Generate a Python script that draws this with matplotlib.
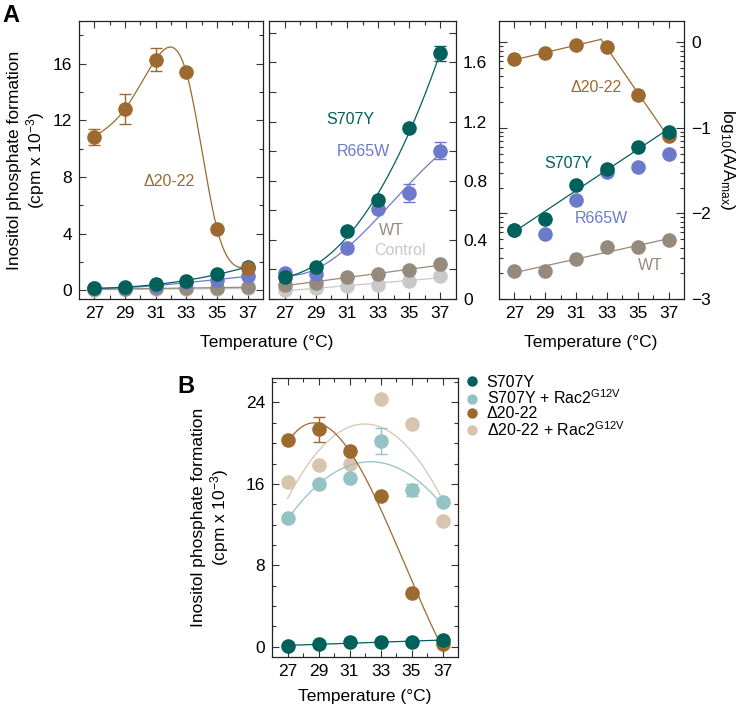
import numpy as np
import matplotlib
matplotlib.use("Agg")
import matplotlib.pyplot as plt
from matplotlib.ticker import MultipleLocator, FixedLocator
from matplotlib.lines import Line2D

plt.rcParams['font.family'] = ['Liberation Sans', 'DejaVu Sans']
plt.rcParams['mathtext.fontset'] = 'custom'
plt.rcParams['mathtext.rm'] = 'Liberation Sans'
plt.rcParams['mathtext.it'] = 'Liberation Sans:italic'

temps = np.array([27, 29, 31, 33, 35, 37])

# panel A, cpm x 10^-3
s707y = [0.15, 0.216, 0.458, 0.668, 1.154, 1.662]
s707y_err = [0, 0, 0, 0, 0, 0.05]
r665w = [0.175, 0.17, 0.347, 0.611, 0.717, 1.002]
r665w_err = [0, 0, 0, 0, 0.058, 0.057]
wt = [0.098, 0.107, 0.148, 0.17, 0.198, 0.234]
control = [0.058, 0.076, 0.087, 0.098, 0.121, 0.153]
d2022 = [10.84, 12.79, 16.28, 15.37, 4.36, 1.6]
d2022_err = [0.56, 1.03, 0.79, 0, 0, 0]

# panel A right, log10(A/Amax)
log_d2022 = [-0.2, -0.125, -0.03, -0.055, -0.61, -1.10]
log_s707y = [-2.19, -2.06, -1.67, -1.48, -1.22, -1.05]
log_r665w = [-2.19, -2.24, -1.84, -1.52, -1.46, -1.30]
log_wt = [-2.67, -2.67, -2.53, -2.39, -2.39, -2.31]

# panel B
b_s707y = [0.1, 0.23, 0.43, 0.5, 0.5, 0.66]
b_s707y_rac = [12.66, 15.97, 16.62, 20.22, 15.38, 14.23]
b_s707y_rac_err = [0, 0, 0, 1.27, 0.57, 0]
b_d2022 = [20.28, 21.36, 19.2, 14.82, 5.33, 0.25]
b_d2022_err = [0, 1.22, 0, 0, 0, 0]
b_d2022_rac = [16.2, 17.83, 18.0, 24.31, 21.92, 12.37]

legend_labels = ['S707Y', 'S707Y + Rac2$^{\\mathrm{G12V}}$',
                 '\u039420-22', '\u039420-22 + Rac2$^{\\mathrm{G12V}}$']

c_s707y = '#00605a'
c_r665w = '#6d7acb'
c_wt = '#958a7c'
c_ctrl = '#c9c9c9'
c_d2022 = '#9c6a2f'
c_s707y_rac = '#94c2c5'
c_d2022_rac = '#d7c5b0'

MS = 10.5
FS = 12.5
xs = np.linspace(27, 37, 200)


def natural_spline(x, y, xn):
    x = np.asarray(x, float)
    y = np.asarray(y, float)
    n = len(x)
    h = np.diff(x)
    A = np.zeros((n, n))
    r = np.zeros(n)
    A[0, 0] = A[-1, -1] = 1
    for i in range(1, n - 1):
        A[i, i - 1] = h[i - 1]
        A[i, i] = 2 * (h[i - 1] + h[i])
        A[i, i + 1] = h[i]
        r[i] = 3 * ((y[i + 1] - y[i]) / h[i] - (y[i] - y[i - 1]) / h[i - 1])
    c = np.linalg.solve(A, r)
    idx = np.clip(np.searchsorted(x, xn) - 1, 0, n - 2)
    dx = xn - x[idx]
    b = (y[idx + 1] - y[idx]) / h[idx] - h[idx] * (2 * c[idx] + c[idx + 1]) / 3
    d = (c[idx + 1] - c[idx]) / (3 * h[idx])
    return y[idx] + b * dx + c[idx] * dx ** 2 + d * dx ** 3


def fit(y, deg):
    return np.polyval(np.polyfit(temps, y, deg), xs)


def series(ax, y, color, deg=None, curve=None, err=None, z=3):
    if curve is None and deg is not None:
        curve = fit(y, deg)
    if curve is not None:
        ax.plot(xs, curve, color=color, lw=0.9, zorder=z)
    if err is not None:
        ax.errorbar(temps, y, yerr=err, fmt='none', ecolor=color, elinewidth=1,
                    capsize=4, capthick=1, zorder=z)
    ax.plot(temps, y, 'o', color=color, ms=MS, mec='none', zorder=z + 0.5)


def style(ax):
    for s in ax.spines.values():
        s.set_linewidth(0.9)
        s.set_color('#222222')
    ax.set_xlim(26, 38)
    ax.xaxis.set_major_locator(FixedLocator(temps))
    ax.xaxis.set_minor_locator(FixedLocator([28, 30, 32, 34, 36]))
    ax.tick_params(which='both', direction='in', top=True, right=True,
                   width=0.8, labelsize=FS, color='#333333', pad=5)
    ax.tick_params(which='major', length=5)
    ax.tick_params(which='minor', length=3)


fig = plt.figure(figsize=(7.41, 7.09), dpi=100)
W, H = 741.0, 709.0


def axes_px(x0, x1, y0, y1):
    return fig.add_axes([x0 / W, 1 - y1 / H, (x1 - x0) / W, (y1 - y0) / H])


# ---- A left
ax1 = axes_px(79, 263, 21, 299)
style(ax1)
series(ax1, control, c_ctrl, deg=1, z=2)
series(ax1, wt, c_wt, deg=1, z=3)
series(ax1, r665w, c_r665w, deg=3, z=4)
series(ax1, s707y, c_s707y, deg=3, z=5)
series(ax1, d2022, c_d2022, curve=natural_spline(temps, d2022, xs), err=d2022_err, z=6)
ax1.set_ylim(-0.6, 19)
ax1.yaxis.set_major_locator(FixedLocator([0, 4, 8, 12, 16]))
ax1.yaxis.set_minor_locator(FixedLocator([2, 6, 10, 14, 18]))
ax1.text(31.9, 7.66, '\u039420-22', color=c_d2022, fontsize=11.5, ha='center', va='center')

# ---- A middle
ax2 = axes_px(269, 456, 21, 299)
style(ax2)
series(ax2, control, c_ctrl, deg=1, z=2)
series(ax2, wt, c_wt, deg=1, z=3)
series(ax2, r665w, c_r665w, deg=3, err=r665w_err, z=4)
series(ax2, s707y, c_s707y, deg=3, err=s707y_err, z=5)
ax2.set_ylim(0, 1.88)
ax2.yaxis.set_major_locator(FixedLocator([0, 0.4, 0.8, 1.2, 1.6]))
ax2.yaxis.set_minor_locator(FixedLocator([0.2, 0.6, 1.0, 1.4, 1.8]))
ax2.yaxis.set_major_formatter(plt.FuncFormatter(lambda v, p: '0' if v == 0 else f'{v:.1f}'))
ax2.tick_params(axis='y', which='both', labelleft=False, labelright=True)
ax2.tick_params(axis='y', which='minor', length=5)
ax2.text(31.25, 1.215, 'S707Y', color=c_s707y, fontsize=11.5, ha='center', va='center')
ax2.text(32.05, 0.995, 'R665W', color=c_r665w, fontsize=11.5, ha='center', va='center')
ax2.text(33.88, 0.464, 'WT', color=c_wt, fontsize=11.5, ha='center', va='center')
ax2.text(34.4, 0.329, 'Control', color=c_ctrl, fontsize=11.5, ha='center', va='center')

# ---- A right (log)
ax3 = axes_px(499, 684, 21, 299)
style(ax3)
p1 = np.polyfit(temps[:3], log_d2022[:3], 1)
p2 = np.polyfit(temps[3:], log_d2022[3:], 1)
xi = (p2[1] - p1[1]) / (p1[0] - p2[0])
xa = np.linspace(27, xi, 50)
xb = np.linspace(xi, 37, 50)
ax3.plot(xa, np.polyval(p1, xa), color=c_d2022, lw=0.9, zorder=3)
ax3.plot(xb, np.polyval(p2, xb), color=c_d2022, lw=0.9, zorder=3)
ax3.plot(temps, log_d2022, 'o', color=c_d2022, ms=MS, mec='none', zorder=3.5)
ax3.plot(temps, log_r665w, 'o', color=c_r665w, ms=MS, mec='none', zorder=4)
series(ax3, log_s707y, c_s707y, deg=1, z=5)
series(ax3, log_wt, c_wt, deg=1, z=3)
ax3.set_ylim(-3, 0.25)
ax3.yaxis.set_major_locator(FixedLocator([-3, -2, -1, 0]))
ax3.yaxis.set_minor_locator(FixedLocator(
    [np.log10(k * 10.0 ** n) for n in (-3, -2, -1) for k in range(2, 10)]))
ax3.tick_params(axis='y', which='both', labelleft=False, labelright=True)
ax3.tick_params(axis='y', which='major', length=6)
ax3.text(32.33, -0.53, '\u039420-22', color=c_d2022, fontsize=11.5, ha='center', va='center')
ax3.text(30.47, -1.42, 'S707Y', color=c_s707y, fontsize=11.5, ha='center', va='center')
ax3.text(32.67, -2.06, 'R665W', color=c_r665w, fontsize=11.5, ha='center', va='center')
ax3.text(35.84, -2.61, 'WT', color=c_wt, fontsize=11.5, ha='center', va='center')

# ---- B
ax4 = axes_px(272, 458, 378, 657)
style(ax4)
series(ax4, b_d2022_rac, c_d2022_rac, deg=2, z=2)
series(ax4, b_s707y_rac, c_s707y_rac, deg=2, err=b_s707y_rac_err, z=3)
series(ax4, b_d2022, c_d2022, deg=3, err=b_d2022_err, z=4)
series(ax4, b_s707y, c_s707y, deg=1, z=5)
ax4.set_ylim(-1, 26.4)
ax4.yaxis.set_major_locator(FixedLocator([0, 8, 16, 24]))
ax4.yaxis.set_minor_locator(MultipleLocator(2))

handles = [Line2D([], [], ls='none', marker='o', ms=7.5, mec='none', color=c)
           for c in (c_s707y, c_s707y_rac, c_d2022, c_d2022_rac)]
fig.legend(handles, legend_labels, loc='upper left', bbox_to_anchor=(465 / W, 1 - 375 / H),
           frameon=False, fontsize=11.5, handletextpad=0.45, labelspacing=-0.08,
           handlelength=0.9, borderaxespad=0, borderpad=0)

# labels
ylab = 'Inositol phosphate formation\n(cpm x 10$^{-3}$)'
fig.text(27 / W, 1 - 160 / H, ylab, rotation=90, ha='center', va='center',
         fontsize=FS, linespacing=1.1)
fig.text(211 / W, 1 - 517 / H, ylab, rotation=90, ha='center', va='center',
         fontsize=FS, linespacing=1.1)
fig.text(727 / W, 1 - 160 / H, 'log$_{\\mathrm{10}}$(A/A$_{\\mathrm{max}}$)', rotation=270,
         ha='center', va='center', fontsize=FS)
fig.text(267 / W, 1 - 343 / H, 'Temperature (\u00b0C)', ha='center', va='center', fontsize=FS)
fig.text(591 / W, 1 - 343 / H, 'Temperature (\u00b0C)', ha='center', va='center', fontsize=FS)
fig.text(365 / W, 1 - 696 / H, 'Temperature (\u00b0C)', ha='center', va='center', fontsize=FS)
fig.text(11 / W, 1 - 15 / H, 'A', ha='center', va='center', fontsize=17, fontweight='bold')
fig.text(186 / W, 1 - 386 / H, 'B', ha='center', va='center', fontsize=17, fontweight='bold')

fig.savefig('out.png', dpi=100)
